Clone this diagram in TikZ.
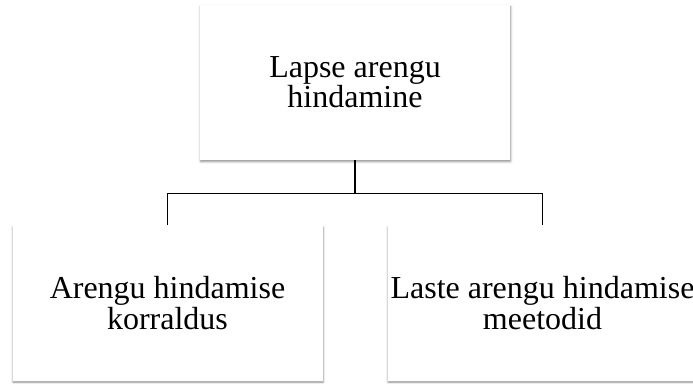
\documentclass[tikz,border=0pt]{standalone}
\usepackage{fontspec}
\setmainfont{Liberation Serif}
\usepackage{tikz}
\usetikzlibrary{shadows.blur}
\tikzstyle{kast} = [rectangle, draw=none, fill=white, minimum height=155pt, minimum width=310pt, inner sep=1pt, align=center, font=\fontsize{32}{27.5}\selectfont, blur shadow={shadow xshift=0.6pt, shadow yshift=-1.6pt, shadow blur radius=2.2pt, shadow opacity=45}]
\tikzstyle{joon} = [draw=black, line width=1.3pt]

\begin{document}
\begin{tikzpicture}[x=1pt, y=1pt]

        \useasboundingbox (0,0) rectangle (693,383);

        \node (hindamine) [kast] at (355,300.5) {Lapse arengu\\hindamine};
        \node (korraldus) [kast] at (167.5,80) {Arengu hindamise\\korraldus};
        \node (meetodid) [kast] at (542.5,80) {Laste arengu hindamise\\meetodid};

        \draw [joon] (hindamine.south) -- ++(0,-33) -| (korraldus.north);
        \draw [joon] (hindamine.south) -- ++(0,-33) -| (meetodid.north);

    \end{tikzpicture}
\end{document}
